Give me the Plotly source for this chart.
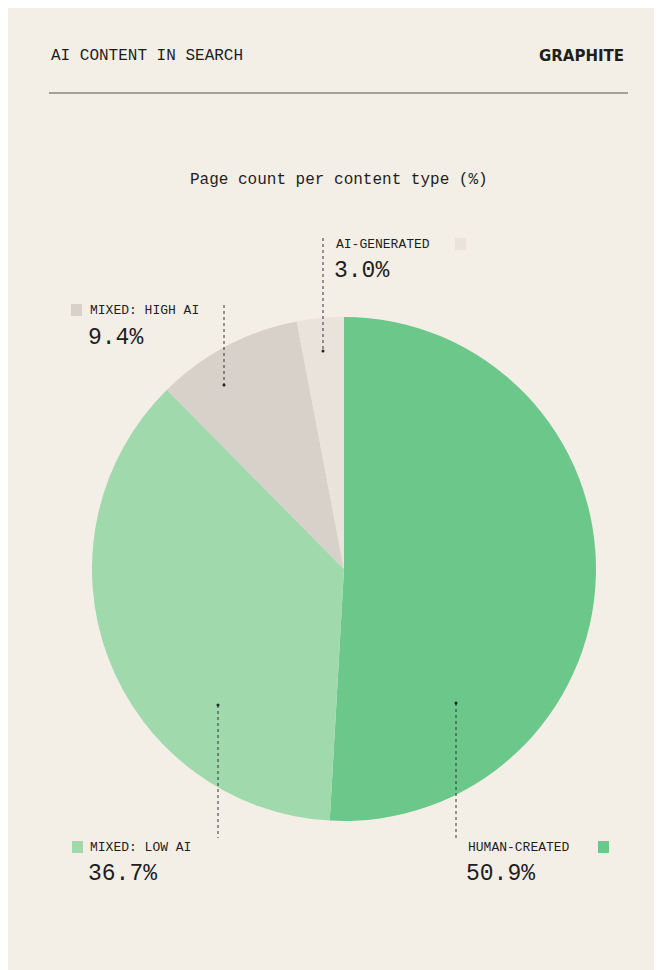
import plotly.graph_objects as go

categories = ["HUMAN-CREATED", "MIXED: LOW AI", "MIXED: HIGH AI", "AI-GENERATED"]
values = [50.9, 36.7, 9.4, 3.0]
colors = ["#6cc78a", "#9fd9ac", "#d7d1ca", "#e9e3dc"]
value_labels = ["50.9%", "36.7%", "9.4%", "3.0%"]

W, H = 662, 970
BG = "#f4efe6"
FONT = "Liberation Mono"
def px(x): return x / W
def py(y): return 1 - y / H

fig = go.Figure(go.Pie(
    labels=categories, values=values, sort=False, direction="clockwise", rotation=0,
    marker=dict(colors=colors, line=dict(width=0)), textinfo="none", hoverinfo="label+value",
    domain=dict(x=[px(84), px(588)], y=[py(813), py(309)]), showlegend=False,
))

shapes = [dict(type="line", xref="paper", yref="paper", x0=px(41), x1=px(620), y0=py(85), y1=py(85),
               line=dict(color="#55524d", width=1))]
ann = [
    dict(x=px(41), y=py(48), text="AI CONTENT IN SEARCH", xanchor="left", font=dict(size=16)),
    dict(x=px(618), y=py(48), text="<b>GRAPHITE</b>", xanchor="right", font=dict(size=15, family="DejaVu Sans")),
    dict(x=0.5, y=py(172), text="Page count per content type (%)", xanchor="center", font=dict(size=16)),
]
# label layout: (text x, name y, value y, anchor, square x, line x, line y0, line y1, dot y)
layout_pos = [
    (458, 839, 866, 590, 448, 695, 830, 695),
    (80, 839, 866, 64, 210, 697, 830, 697),
    (80, 302, 330, 63, 216, 297, 377, 377),
    (326, 236, 263, 447, 315, 230, 343, 343),
]
for i, (tx, ny, vy, sx, lx, l0, l1, dy) in enumerate(layout_pos):
    ann.append(dict(x=px(tx), y=py(ny), text=categories[i], xanchor="left", font=dict(size=13)))
    ann.append(dict(x=px(tx - 2), y=py(vy), text=value_labels[i], xanchor="left", font=dict(size=23)))
    shapes.append(dict(type="rect", xref="paper", yref="paper", x0=px(sx), x1=px(sx + 11),
                       y0=py(ny + 6), y1=py(ny - 6), fillcolor=colors[i], line=dict(width=0)))
    shapes.append(dict(type="line", xref="paper", yref="paper", x0=px(lx), x1=px(lx), y0=py(l0), y1=py(l1),
                       line=dict(color="#333", width=1, dash="dot")))
    shapes.append(dict(type="circle", xref="paper", yref="paper", x0=px(lx - 1.5), x1=px(lx + 1.5),
                       y0=py(dy + 1.5), y1=py(dy - 1.5), fillcolor="#222", line=dict(width=0)))
for a in ann:
    a.update(xref="paper", yref="paper", yanchor="middle", showarrow=False)
    a.setdefault("font", {})
    a["font"].setdefault("family", FONT)
    a["font"]["color"] = "#1e1e1e"

fig.update_layout(width=W, height=H, margin=dict(l=0, r=0, t=0, b=0), paper_bgcolor=BG, plot_bgcolor=BG,
                  font=dict(family=FONT), shapes=shapes, annotations=ann)
fig.write_html("out.html")
